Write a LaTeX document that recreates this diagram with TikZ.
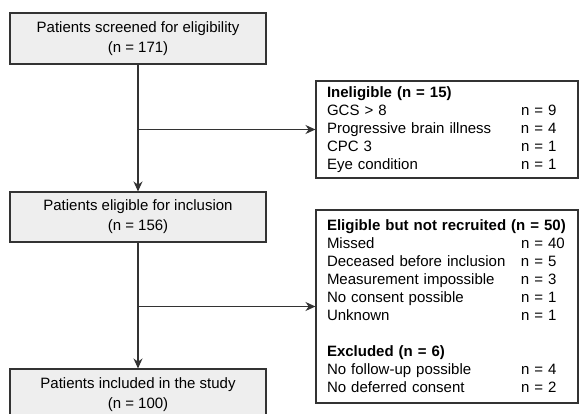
\documentclass[tikz,border=0pt]{standalone}
\usepackage{fontspec}
\setmainfont{Liberation Sans}
\usetikzlibrary{arrows.meta,positioning}
\definecolor{boxgray}{HTML}{EEEEEE}
\definecolor{linegray}{HTML}{333333}
\tikzset{stage/.style={draw=linegray, fill=boxgray, line width=1.1pt, minimum width=256pt, minimum height=51pt, align=center, inner sep=0pt, font=\fontsize{15}{20}\selectfont},
  reason/.style={draw=linegray, fill=white, line width=1.1pt, minimum width=262pt, text width=240pt, inner xsep=11pt, inner ysep=0pt, align=left, font=\fontsize{15}{18}\selectfont},
  flow/.style={-{Stealth[length=10pt,width=9pt]}, line width=1.2pt, draw=linegray}}
\newcommand{\reasonrow}[2]{\makebox[194pt][l]{#1}#2}

\begin{document}
\begin{tikzpicture}[x=1pt, y=1pt]
\useasboundingbox (0,0) rectangle (581,413);
\clip (0,0) rectangle (581,413);
\node (screened) at (138,374.5) [stage] {Patients screened for eligibility\\(n = 171)};
\node (eligible) at (138,196) [stage, minimum height=50pt] {Patients eligible for inclusion\\(n = 156)};
\node (included) at (138,18) [stage, minimum height=52pt] {Patients included in the study\\(n = 100)};
\node (ineligible) at (447,283.5) [reason, minimum height=97pt] {\textbf{Ineligible (n = 15)}\\
  \reasonrow{GCS > 8}{n = 9}\\
  \reasonrow{Progressive brain illness}{n = 4}\\
  \reasonrow{CPC 3}{n = 1}\\
  \reasonrow{Eye condition}{n = 1}};
\node (notrecruited) at (447,106.5) [reason, minimum height=193pt] {\textbf{Eligible but not recruited (n = 50)}\\
  \reasonrow{Missed}{n = 40}\\
  \reasonrow{Deceased before inclusion}{n = 5}\\
  \reasonrow{Measurement impossible}{n = 3}\\
  \reasonrow{No consent possible}{n = 1}\\
  \reasonrow{Unknown}{n = 1}\\[18pt]
  \textbf{Excluded (n = 6)}\\
  \reasonrow{No follow-up possible}{n = 4}\\
  \reasonrow{No deferred consent}{n = 2}};
\draw[flow] (screened) -- (eligible);
\draw[flow] (eligible) -- (included);
\draw[flow] (screened.south |- ineligible.west) -- (ineligible.west);
\draw[flow] (eligible.south |- notrecruited.west) -- (notrecruited.west);
\end{tikzpicture}
\end{document}
